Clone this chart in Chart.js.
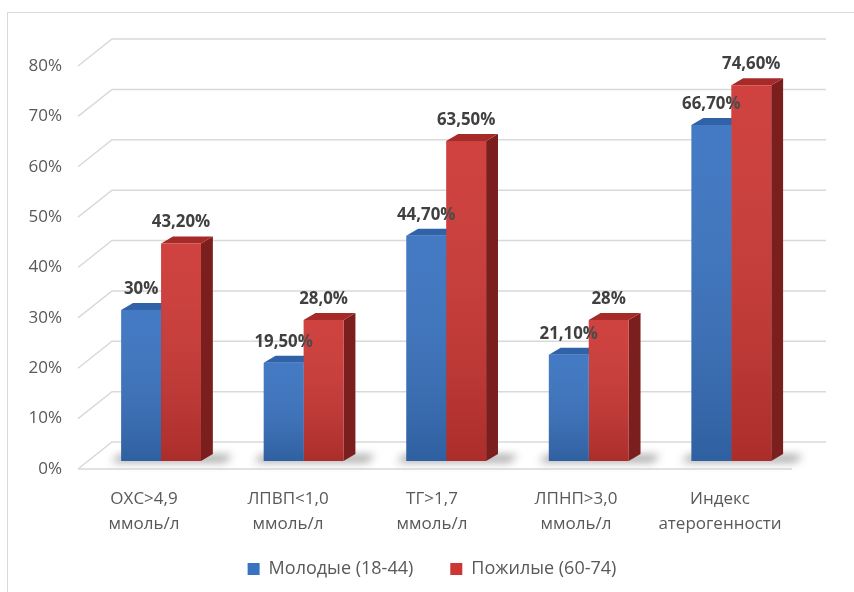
<!DOCTYPE html>
<html>
<head>
<meta charset="utf-8">
<script src="https://cdn.jsdelivr.net/npm/chart.js@4"></script>
<style>
html, body { margin: 0; padding: 0; background: #fff; overflow: hidden; }
#wrap { position: relative; width: 854px; height: 592px; }
#frame { position: absolute; left: 7px; top: 12px; width: 900px; height: 700px; border: 1px solid #d9d9d9; }
#myChart { position: absolute; left: 0; top: 0; }
</style>
</head>
<body>
<div id="wrap">
  <div id="frame"></div>
  <canvas id="myChart" width="854" height="592"></canvas>
</div>
<script>
// data
const categories = [
    ['ОХС>4,9', 'ммоль/л'],
    ['ЛПВП<1,0', 'ммоль/л'],
    ['ТГ>1,7', 'ммоль/л'],
    ['ЛПНП>3,0', 'ммоль/л'],
    ['Индекс', 'атерогенности']
];
const youngValues = [30, 19.5, 44.7, 21.1, 66.7];
const oldValues = [43.2, 28, 63.5, 28, 74.6];
const youngLabels = ['30%', '19,50%', '44,70%', '21,10%', '66,70%'];
const oldLabels = ['43,20%', '28,0%', '63,50%', '28%', '74,60%'];
const seriesNames = ['Молодые (18-44)', 'Пожилые (60-74)'];
const yMax = 80;
const yStep = 10;

var FONT = 'Open Sans';
var wall = { dx: 34, dy: -27 };
var depth = { dx: 12, dy: -7 };

// bars stand a bit behind the front edge of the floor
function barPlane(ctx) {
    ctx.transform(0.99, 0, 0, 1, 18.5, -8);
}

function poly(ctx, pts) {
    ctx.beginPath();
    ctx.moveTo(pts[0], pts[1]);
    for (var i = 2; i < pts.length; i += 2) ctx.lineTo(pts[i], pts[i + 1]);
    ctx.closePath();
    ctx.fill();
}

const threeD = {
    id: 'threeD',
    afterLayout(chart) {
        // legend sits under the plot, not under the whole canvas
        chart.legend.left += 72;
        chart.legend.top -= 16;
        chart.legend.bottom -= 16;
    },
    beforeDatasetsDraw(chart) {
        const ctx = chart.ctx;
        const y = chart.scales.y;
        const area = chart.chartArea;

        // walls and gridlines
        ctx.save();
        ctx.strokeStyle = '#d9d9d9';
        ctx.lineWidth = 1.5;
        y.ticks.forEach(function (t) {
            const py = y.getPixelForValue(t.value);
            ctx.beginPath();
            ctx.moveTo(area.left + 6, py);
            ctx.lineTo(area.left + 6 + wall.dx, py + wall.dy);
            ctx.lineTo(area.right + wall.dx, py + wall.dy);
            ctx.stroke();
        });
        const p0 = y.getPixelForValue(0);
        ctx.beginPath();
        ctx.moveTo(area.left + 6, p0);
        ctx.lineTo(area.right, p0);
        ctx.stroke();
        ctx.restore();

        ctx.save();
        barPlane(ctx);

        // soft shadows on the floor
        const m0 = chart.getDatasetMeta(0), m1 = chart.getDatasetMeta(1);
        ctx.save();
        ctx.filter = 'blur(4px)';
        ctx.fillStyle = 'rgba(0,0,0,0.38)';
        m0.data.forEach(function (b, i) {
            const r = m1.data[i];
            const l = b.x - b.width / 2 - 10, rr = r.x + r.width / 2 + depth.dx + 20;
            poly(ctx, [l, b.base + 1, l + 8, b.base - 6, rr, b.base - 6, rr - 8, b.base + 1]);
        });
        ctx.restore();

        // side and top faces
        chart.data.datasets.forEach(function (ds, i) {
            chart.getDatasetMeta(i).data.forEach(function (bar) {
                const l = bar.x - bar.width / 2, r = bar.x + bar.width / 2, t = bar.y, b = bar.base;
                ctx.fillStyle = ds.sideColor;
                poly(ctx, [r, t, r + depth.dx, t + depth.dy, r + depth.dx, b + depth.dy, r, b]);
                ctx.fillStyle = ds.topColor;
                poly(ctx, [l, t, l + depth.dx, t + depth.dy, r + depth.dx, t + depth.dy, r, t]);
            });
        });
        ctx.restore();

        // the fronts are drawn by the library in the bar plane too
        ctx.save();
        barPlane(ctx);
    },
    afterDatasetsDraw(chart) {
        const ctx = chart.ctx;
        chart.data.datasets.forEach(function (ds, i) {
            chart.getDatasetMeta(i).data.forEach(function (bar, j) {
                const l = bar.x - bar.width / 2, t = bar.y, b = bar.base;
                const g = ctx.createLinearGradient(0, t, 0, b);
                g.addColorStop(0, 'rgba(255,255,255,0.06)');
                g.addColorStop(1, 'rgba(0,0,0,0.16)');
                ctx.fillStyle = g;
                ctx.fillRect(l, t, bar.width, b - t);

                ctx.font = 'bold 17px "' + FONT + '"';
                ctx.fillStyle = '#404040';
                ctx.textAlign = 'center';
                ctx.textBaseline = 'middle';
                ctx.fillText(ds.valueLabels[j], bar.x, t - 21);
            });
        });
        ctx.restore();
    }
};

var ctx = document.getElementById('myChart').getContext('2d');
var chart = new Chart(ctx, {
    type: 'bar',
    data: {
        labels: categories,
        datasets: [{
            label: seriesNames[0],
            data: youngValues,
            valueLabels: youngLabels,
            backgroundColor: '#3872c0',
            sideColor: '#29508a',
            topColor: '#2f62a6'
        }, {
            label: seriesNames[1],
            data: oldValues,
            valueLabels: oldLabels,
            backgroundColor: '#cc3633',
            sideColor: '#7a1f1e',
            topColor: '#a62a28'
        }]
    },
    options: {
        responsive: false,
        animation: false,
        layout: { padding: { left: 0, right: 62, top: 66, bottom: -12 } },
        datasets: { bar: { barPercentage: 1, categoryPercentage: 0.56 } },
        scales: {
            x: {
                grid: { display: false, drawTicks: false },
                border: { display: false },
                ticks: {
                    color: '#595959',
                    padding: 18,
                    maxRotation: 0,
                    font: { family: FONT, size: 17, lineHeight: 1.45 }
                },
                afterFit: function (s) { s.height = 70; }
            },
            y: {
                min: 0,
                max: yMax,
                grid: { display: false, drawTicks: false },
                border: { display: false },
                ticks: {
                    stepSize: yStep,
                    color: '#595959',
                    padding: 10,
                    font: { family: FONT, size: 17 },
                    callback: function (v) { return v + '%'; }
                },
                afterFit: function (s) { s.width = 72; }
            }
        },
        plugins: {
            tooltip: { enabled: false },
            legend: {
                position: 'bottom',
                labels: {
                    color: '#595959',
                    boxWidth: 12,
                    boxHeight: 12,
                    padding: 37,
                    font: { family: FONT, size: 18 }
                }
            }
        }
    },
    plugins: [threeD]
});
</script>
</body>
</html>
